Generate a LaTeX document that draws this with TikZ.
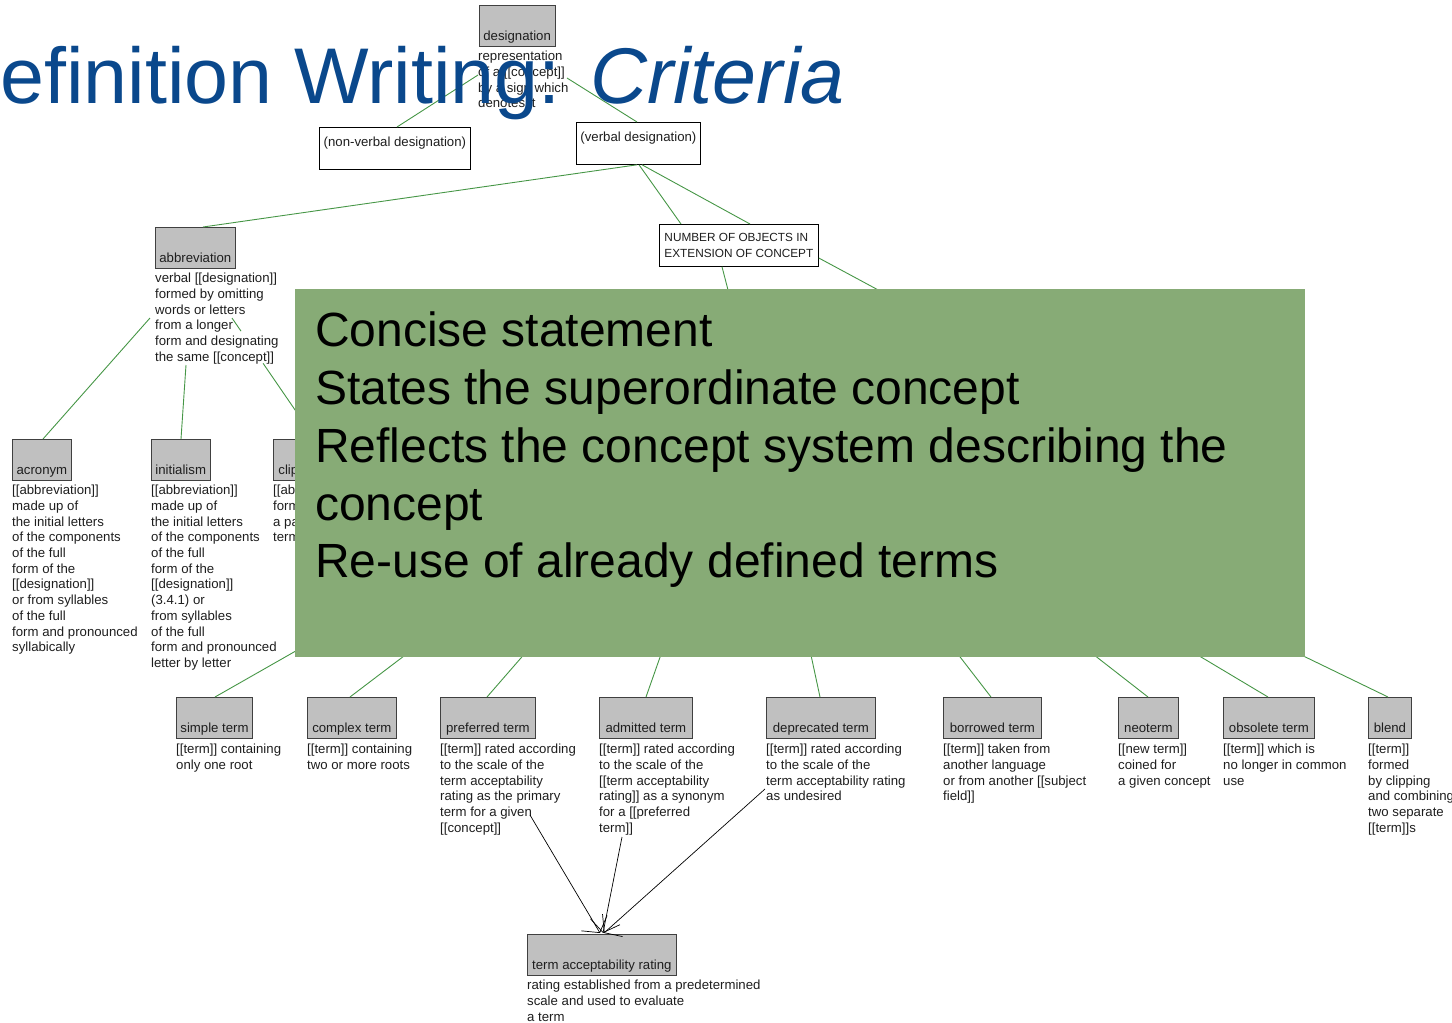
\documentclass[tikz,border=0pt]{standalone}
\usepackage{fontspec}
\setmainfont{Liberation Sans}
\newfontfamily\diafont{Liberation Sans}
\usetikzlibrary{arrows.meta,calc}
\definecolor{linkgreen}{RGB}{70,150,70}
\definecolor{boxgray}{RGB}{192,192,192}
\definecolor{boxline}{RGB}{64,64,64}
\definecolor{slidegreen}{RGB}{135,171,118}
\definecolor{titleblue}{RGB}{10,72,140}
\definecolor{inktext}{RGB}{30,30,30}

\begin{document}
\begin{tikzpicture}[x=1pt,y=-1pt,
  every node/.style={text=inktext},
  gbox/.style={draw=boxline, line width=0.8pt, fill=boxgray, anchor=north west,
    inner xsep=4pt, inner ysep=0pt, text height=35pt, text depth=6pt,
    font=\diafont\fontsize{13.2}{15}\selectfont},
  wbox/.style={draw=black, line width=0.8pt, fill=white, anchor=north west,
    inner xsep=4pt, inner ysep=0pt, text height=19pt, text depth=23pt,
    font=\diafont\fontsize{13.2}{15}\selectfont},
  desc/.style={anchor=north west, inner sep=0pt, align=left,
    font=\diafont\fontsize{13.2}{15.7}\selectfont},
  link/.style={draw=linkgreen, line width=0.9pt},
  rate/.style={draw=black, line width=0.7pt, -{Straight Barb[length=11pt,width=30pt]}},
]
\useasboundingbox (0,0) rectangle (1452,1023);
\clip (0,0) rectangle (1452,1023);

% ---- top of the concept tree
\node[gbox, minimum width=74pt] (des) at (479,5) {designation};
\node[desc] (desD) at (478,51) {representation\\of a [[concept]]\\by a sign which\\denotes it};
\node[wbox, minimum width=151pt] (nonverbal) at (319,127) {(non-verbal designation)};
\node[wbox, minimum width=124pt] (verbal) at (576,122) {(verbal designation)};
\node[draw=black, line width=0.8pt, fill=white, anchor=north west, minimum width=159pt,
  minimum height=42pt, inner xsep=4pt, align=left,
  font=\diafont\fontsize{11.8}{16}\selectfont] (number) at (659,224)
  {NUMBER OF OBJECTS IN\\EXTENSION OF CONCEPT};

% ---- abbreviation branch
\node[gbox, minimum width=79pt] (abbr) at (155,227) {abbreviation};
\node[desc] (abbrD) at (155,273) {verbal [[designation]]\\formed by omitting\\words or letters\\from a longer\\form and designating\\the same [[concept]]};
\node[gbox, minimum width=59pt] (acronym) at (12,439) {acronym};
\node[desc] (acroD) at (12,485) {[[abbreviation]]\\made up of\\the initial letters\\of the components\\of the full\\form of the\\{}[[designation]]\\or from syllables\\of the full\\form and pronounced\\syllabically};
\node[gbox, minimum width=56pt] (initialism) at (151,439) {initialism};
\node[desc] (initD) at (151,485) {[[abbreviation]]\\made up of\\the initial letters\\of the components\\of the full\\form of the\\{}[[designation]]\\(3.4.1) or\\from syllables\\of the full\\form and pronounced\\letter by letter};
\node[gbox, minimum width=82pt] (clipping) at (273,439) {clipped term};
\node[desc] (clipD) at (273,485) {[[abbreviation]]\\formed by truncating\\a part of a simple\\term};

% ---- kinds of term
\node[gbox, minimum width=76pt] (simple) at (176,697) {simple term};
\node[desc] (simpleD) at (176,744) {[[term]] containing\\only one root};
\node[gbox, minimum width=89pt] (complex) at (307,697) {complex term};
\node[desc] (complexD) at (307,744) {[[term]] containing\\two or more roots};
\node[gbox, minimum width=95pt] (preferred) at (440,697) {preferred term};
\node[desc] (prefD) at (440,744) {[[term]] rated according\\to the scale of the\\term acceptability\\rating as the primary\\term for a given\\{}[[concept]]};
\node[gbox, minimum width=93pt] (admitted) at (599,697) {admitted term};
\node[desc] (admD) at (599,744) {[[term]] rated according\\to the scale of the\\{}[[term acceptability\\rating]] as a synonym\\for a [[preferred\\term]]};
\node[gbox, minimum width=109pt] (deprecated) at (766,697) {deprecated term};
\node[desc] (depD) at (766,744) {[[term]] rated according\\to the scale of the\\term acceptability rating\\as undesired};
\node[gbox, minimum width=98pt] (borrowed) at (943,697) {borrowed term};
\node[desc] (borD) at (943,744) {[[term]] taken from\\another language\\or from another [[subject\\field]]};
\node[gbox, minimum width=60pt] (neoterm) at (1118,697) {neoterm};
\node[desc] (neoD) at (1118,744) {[[new term]]\\coined for\\a given concept};
\node[gbox, minimum width=91pt] (obsolete) at (1223,697) {obsolete term};
\node[desc] (obsD) at (1223,744) {[[term]] which is\\no longer in common\\use};
\node[gbox, minimum width=43pt] (blend) at (1368,697) {blend};
\node[desc] (blendD) at (1368,744) {[[term]]\\formed\\by clipping\\and combining\\two separate\\{}[[term]]s};

\node[gbox, minimum width=149pt] (tacc) at (527,934) {term acceptability rating};
\node[desc] (taccD) at (527,980) {rating established from a predetermined\\scale and used to evaluate\\a term};

% ---- hidden junctions under the panel
\coordinate (term) at (754,390);
\coordinate (numchild) at (934,320);

% ---- generic relations
\path[link] ($(desD.north west)+(0,24)$) -- ($(nonverbal.north west)+(78,0)$);
\path[link] ($(desD.north west)+(89,27)$) -- ($(verbal.north west)+(61,0)$);
\path[link] ($(verbal.south west)+(61,0)$) -- ($(abbr.north west)+(48,0)$);
\path[link] ($(verbal.south west)+(63,0)$) -- ($(number.north west)+(22,0)$);
\path[link] ($(verbal.south west)+(66,0)$) -- ($(number.north west)+(91,0)$);
\path[link] ($(number.south west)+(63,0)$) -- (term);
\path[link] ($(number.north east)+(0,34)$) -- (numchild);
\path[link] ($(abbrD.north west)+(-5,45)$) -- ($(acronym.north west)+(31,0)$);
\path[link] ($(abbrD.north west)+(31,92)$) -- ($(initialism.north west)+(30,0)$);
\path[link, dash pattern=on 16pt off 39pt on 400pt] ($(abbrD.north west)+(77,45)$) -- ($(clipping.north west)+(42,0)$);
\foreach \c/\dx in {simple/39, complex/43, preferred/47, admitted/47, deprecated/54,
                    borrowed/48, neoterm/30, obsolete/45, blend/20}
  \path[link] (term) -- ($(\c.north west)+(\dx,0)$);

% ---- associative relations to the rating scale
\draw[rate] ($(prefD.north west)+(90,71)$) -- ($(tacc.north west)+(73,-1)$);
\draw[rate] ($(admD.north west)+(23,93)$) -- ($(tacc.north west)+(76,-1)$);
\draw[rate] ($(depD.north west)+(-1,45)$) -- ($(tacc.north west)+(77,-1)$);

% ---- slide title and criteria panel
\node[anchor=base west, inner sep=0pt, text=titleblue,
  font=\fontsize{79}{90}\selectfont] (title) at (-57,103)
  {Definition Writing: \textit{Criteria}};
\node[fill=slidegreen, anchor=north west, minimum width=1010pt, minimum height=368pt,
  inner sep=0pt] (panel) at (295,289) {};
\node[anchor=north west, inner sep=0pt, align=left, text=black,
  font=\fontsize{48}{57.75}\selectfont] (criteria) at (315,312)
  {Concise statement\\States the superordinate concept\\Reflects the concept system describing the\\concept\\Re-use of already defined terms};
\end{tikzpicture}
\end{document}
